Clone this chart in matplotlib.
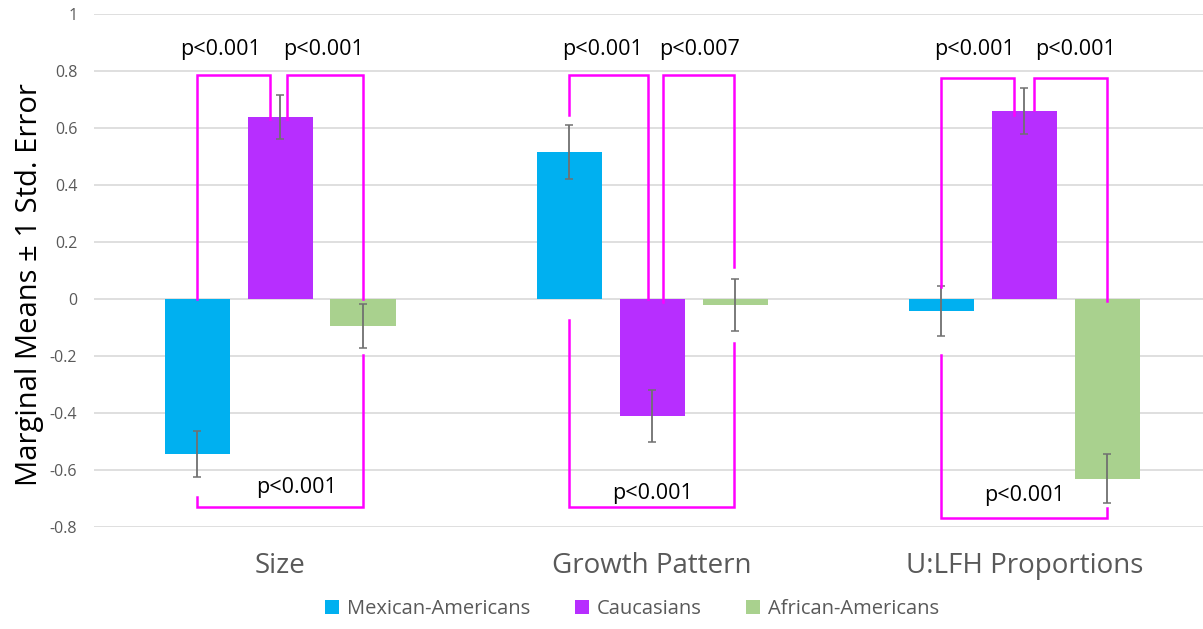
import numpy as np
import matplotlib
matplotlib.use("Agg")
import matplotlib.pyplot as plt

plt.rcParams['font.family'] = ['Open Sans', 'DejaVu Sans']

categories = ["Size", "Growth Pattern", "U:LFH Proportions"]
groups = ["Mexican-Americans", "Caucasians", "African-Americans"]
colors = ["#00B0F0", "#B72EFF", "#A9D18E"]

mexican = [-0.544, 0.516, -0.042]
caucasian = [0.639, -0.410, 0.660]
african = [-0.095, -0.021, -0.630]

mexican_se = [0.080, 0.095, 0.087]
caucasian_se = [0.076, 0.090, 0.081]
african_se = [0.077, 0.090, 0.085]

# significance brackets: category, left/right x offset, left/right leg end,
# bar height, label, label x offset, label y
bracket_cat = [0, 0, 0, 1, 1, 1, 2, 2, 2]
bracket_x0 = [-0.223, 0.019, -0.223, -0.223, 0.030, -0.223, -0.223, 0.027, -0.223]
bracket_x1 = [-0.027, 0.222, 0.222, -0.011, 0.220, 0.220, -0.027, 0.223, 0.223]
bracket_y0 = [0.0, 0.632, -0.695, 0.646, -0.010, -0.074, 0.042, 0.663, -0.196]
bracket_y1 = [0.632, 0.0, -0.196, 0.0, 0.112, -0.154, 0.646, -0.007, -0.733]
bracket_top = [0.786, 0.786, -0.730, 0.786, 0.786, -0.730, 0.775, 0.775, -0.768]
bracket_text = ["p<0.001", "p<0.001", "p<0.001", "p<0.001", "p<0.007",
                "p<0.001", "p<0.001", "p<0.001", "p<0.001"]
text_dx = [-0.161, 0.118, 0.043, -0.134, 0.126, 0.0, -0.134, 0.137, 0.0]
text_y = [0.874, 0.874, -0.663, 0.874, 0.874, -0.684, 0.874, 0.874, -0.690]

fig = plt.figure(figsize=(12.03, 6.29), dpi=100)
ax = fig.add_axes([94 / 1203, 102 / 629, 1109 / 1203, 513 / 629])

x = np.arange(len(categories))
offset = 0.223
width = 0.175
series = [mexican, caucasian, african]
errors = [mexican_se, caucasian_se, african_se]
for i, (vals, se) in enumerate(zip(series, errors)):
    xs = x + (i - 1) * offset
    ax.bar(xs, vals, width, color=colors[i], label=groups[i], zorder=2)
    ax.errorbar(xs, vals, yerr=se, fmt='none', ecolor='#707070',
                elinewidth=1.3, capsize=3, capthick=1.1, zorder=3)

for c, x0, x1, y0, y1, top, txt, dx, ty in zip(bracket_cat, bracket_x0, bracket_x1,
                                                bracket_y0, bracket_y1, bracket_top,
                                                bracket_text, text_dx, text_y):
    ax.plot([c + x0, c + x0, c + x1, c + x1], [y0, top, top, y1],
            color='#FF00FF', lw=1.8, zorder=4, solid_joinstyle='miter')
    ax.text(c + dx, ty, txt, ha='center', va='center', fontsize=15.5,
            color='black', zorder=5)

ax.set_xlim(-0.5, 2.48)
ax.set_ylim(-0.8, 1.0)
ax.set_yticks(np.arange(-0.8, 1.01, 0.2))
ax.set_yticklabels(["-0.8", "-0.6", "-0.4", "-0.2", "0", "0.2", "0.4", "0.6", "0.8", "1"])
ax.yaxis.grid(True, color='#D9D9D9', lw=1.2, zorder=0)
ax.set_axisbelow(True)
for s in ax.spines.values():
    s.set_visible(False)
ax.tick_params(axis='y', length=0, labelsize=11.5, labelcolor='#595959', pad=12)
ax.set_xticks(x)
ax.set_xticklabels(categories)
ax.tick_params(axis='x', length=0, labelsize=20, labelcolor='#595959', pad=18)

fig.text(30 / 1203, 1 - 285 / 629, "Marginal Means \u00b1 1 Std. Error",
         rotation=90, ha='center', va='center', fontsize=21, color='black')

fig.legend(loc='center', bbox_to_anchor=(632 / 1203, 1 - 609 / 629), ncol=3,
           frameon=False, fontsize=14.5, labelcolor='#595959', handlelength=0.7,
           handleheight=0.7, handletextpad=0.4, columnspacing=2.2)

fig.savefig("out.png", dpi=100)
